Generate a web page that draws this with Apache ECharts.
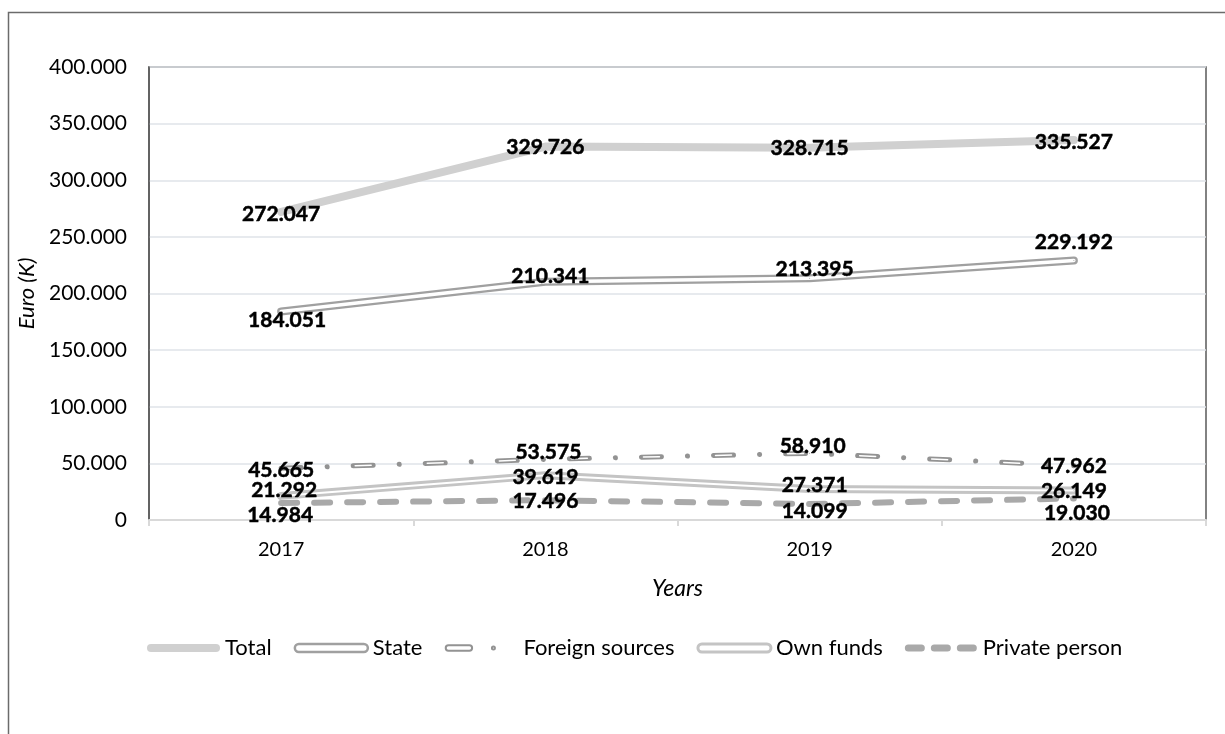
<!DOCTYPE html>
<html>
<head>
<meta charset="utf-8">
<script src="https://cdn.jsdelivr.net/npm/echarts@6/dist/echarts.min.js"></script>
<style>
html,body{margin:0;padding:0;background:#fff;}
#chart{width:1225px;height:734px;}
</style>
</head>
<body>
<div id="chart"></div>
<script>
// ---- data ----
const categories = ['2017', '2018', '2019', '2020'];
const seriesNames = ['Total', 'State', 'Foreign sources', 'Own funds', 'Private person'];
const totalValues = [272047, 329726, 328715, 335527];
const stateValues = [184051, 210341, 213395, 229192];
const foreignValues = [45665, 53575, 58910, 47962];
const ownFundsValues = [21292, 39619, 27371, 26149];
const privateValues = [14984, 17496, 14099, 19030];
const yTicks = [0, 50000, 100000, 150000, 200000, 250000, 300000, 350000, 400000];

// ---- label placement (pixel nudges relative to each point) ----
const labelNudges = {
  'Total': [[0, 2], [0, 1], [0, 1], [0, 2]],
  'State': [[6, 9], [5, -6], [5, -9], [0, -18]],
  'Foreign sources': [[0, 2], [3, -7], [3, -7], [0, 1]],
  'Own funds': [[3, -6], [0, 2], [5, -4], [0, 1]],
  'Private person': [[-1, 12], [0, 1], [5, 7], [3, 15]]
};

const FONT = 'Lato, "Open Sans", "Noto Sans", sans-serif';

function fmt(v) {
  if (v === 0) return '0';
  const s = String(Math.round(v));
  return s.replace(/\B(?=(\d{3})+(?!\d))/g, '.');
}

function withLabels(name, values) {
  return values.map((v, i) => ({
    value: v,
    label: { offset: labelNudges[name][i] }
  }));
}

const labelStyle = {
  show: true,
  position: 'inside',
  formatter: p => fmt(p.value),
  color: '#000',
  fontFamily: FONT,
  fontWeight: 'bold',
  fontSize: 21,
  textBorderColor: '#000',
  textBorderWidth: 0.5
};

function mainSeries(name, values, color, width, type) {
  return {
    name: name,
    type: 'line',
    data: withLabels(name, values),
    symbol: 'circle',
    symbolSize: 1,
    showSymbol: true,
    itemStyle: { color: color },
    lineStyle: { color: color, width: width, type: type, cap: 'round', join: 'round' },
    label: labelStyle,
    emphasis: { disabled: true },
    silent: true
  };
}

function coreSeries(id, values, color, width, type, dashOffset) {
  return {
    name: id,
    type: 'line',
    data: values,
    symbol: 'none',
    lineStyle: { color: color, width: width, type: type, dashOffset: dashOffset || 0, cap: 'round', join: 'round' },
    emphasis: { disabled: true },
    silent: true
  };
}

const capsule = 'M4,0 L69,0 A4,4 0 0 1 69,8 L4,8 A4,4 0 0 1 4,0 Z';
const foreignIcon = 'path://M0,0 M73,8 M3,1.3 L24,1.3 A2.7,2.7 0 0 1 24,6.7 L3,6.7 A2.7,2.7 0 0 1 3,1.3 Z M46.5,4 A1.5,1.5 0 1 0 49.5,4 A1.5,1.5 0 1 0 46.5,4 Z';
const privateIcon = 'path://M0,0 M73,8 M3.5,0.5 L16.5,0.5 A3.5,3.5 0 0 1 16.5,7.5 L3.5,7.5 A3.5,3.5 0 0 1 3.5,0.5 Z M29.5,0.5 L42.5,0.5 A3.5,3.5 0 0 1 42.5,7.5 L29.5,7.5 A3.5,3.5 0 0 1 29.5,0.5 Z M55.5,0.5 L68.5,0.5 A3.5,3.5 0 0 1 68.5,7.5 L55.5,7.5 A3.5,3.5 0 0 1 55.5,0.5 Z';

const chart = echarts.init(document.getElementById('chart'), null, { renderer: 'canvas' });

const option = {
  animation: false,
  backgroundColor: '#fff',
  graphic: [{
    type: 'rect',
    shape: { x: 8.5, y: 12.5, width: 1240, height: 760 },
    style: { fill: 'none', stroke: '#6b6b6b', lineWidth: 1.5 },
    silent: true,
    z: -10
  }],
  grid: {
    left: 149, top: 67, width: 1057, height: 453,
    show: true, borderColor: '#595959', borderWidth: 1.5, backgroundColor: 'transparent'
  },
  legend: {
    left: 142,
    top: 632,
    itemWidth: 73,
    itemHeight: 8,
    itemGap: 22,
    selectedMode: false,
    textStyle: { fontFamily: FONT, fontSize: 22, color: '#000' },
    data: [
      { name: 'Total', icon: 'path://' + capsule, itemStyle: { color: '#d0d0d0', borderWidth: 0 } },
      { name: 'State', icon: 'path://' + capsule, itemStyle: { color: '#ffffff', borderColor: '#a0a0a0', borderWidth: 2.5 } },
      { name: 'Foreign sources', icon: foreignIcon, itemStyle: { color: '#ffffff', borderColor: '#939393', borderWidth: 2 } },
      { name: 'Own funds', icon: 'path://' + capsule, itemStyle: { color: '#ffffff', borderColor: '#c4c4c4', borderWidth: 3 } },
      { name: 'Private person', icon: privateIcon, itemStyle: { color: '#a9a9a9', borderWidth: 0 } }
    ]
  },
  xAxis: {
    type: 'category',
    data: categories,
    boundaryGap: true,
    name: 'Years',
    nameLocation: 'middle',
    nameGap: 57,
    nameTextStyle: { fontFamily: FONT, fontSize: 23, fontStyle: 'italic', color: '#000' },
    axisLine: { show: true, lineStyle: { color: '#d9d9d9', width: 2 } },
    axisTick: { show: true, length: 6, interval: 0, lineStyle: { color: '#d9d9d9', width: 2 } },
    axisLabel: { margin: 20, fontFamily: FONT, fontSize: 20, color: '#000', interval: 0 },
    splitLine: { show: false }
  },
  yAxis: {
    type: 'value',
    min: yTicks[0],
    max: yTicks[yTicks.length - 1],
    interval: yTicks[1] - yTicks[0],
    name: 'Euro (K)',
    nameLocation: 'middle',
    nameGap: 110,
    nameTextStyle: { fontFamily: FONT, fontSize: 22, fontStyle: 'italic', color: '#000' },
    axisLine: { show: true, lineStyle: { color: '#595959', width: 1.5 } },
    axisTick: { show: false },
    axisLabel: { margin: 22, fontFamily: FONT, fontSize: 21, color: '#000', formatter: fmt },
    splitLine: { show: true, lineStyle: { color: '#dfe3e8', width: 1.5 } }
  },
  series: [
    mainSeries('Private person', privateValues, '#a9a9a9', 6, [16, 17]),
    mainSeries('Own funds', ownFundsValues, '#c4c4c4', 8, 'solid'),
    coreSeries('_own_core', ownFundsValues, '#ffffff', 2, 'solid', 0),
    mainSeries('Foreign sources', foreignValues, '#939393', 5, [20, 26, 0.1, 26]),
    coreSeries('_foreign_core', foreignValues, '#ffffff', 1.5, [16, 56.1], 70.1),
    mainSeries('State', stateValues, '#a0a0a0', 8, 'solid'),
    coreSeries('_state_core', stateValues, '#ffffff', 3.5, 'solid', 0),
    mainSeries('Total', totalValues, '#d0d0d0', 8, 'solid')
  ]
};

chart.setOption(option);
</script>
</body>
</html>
